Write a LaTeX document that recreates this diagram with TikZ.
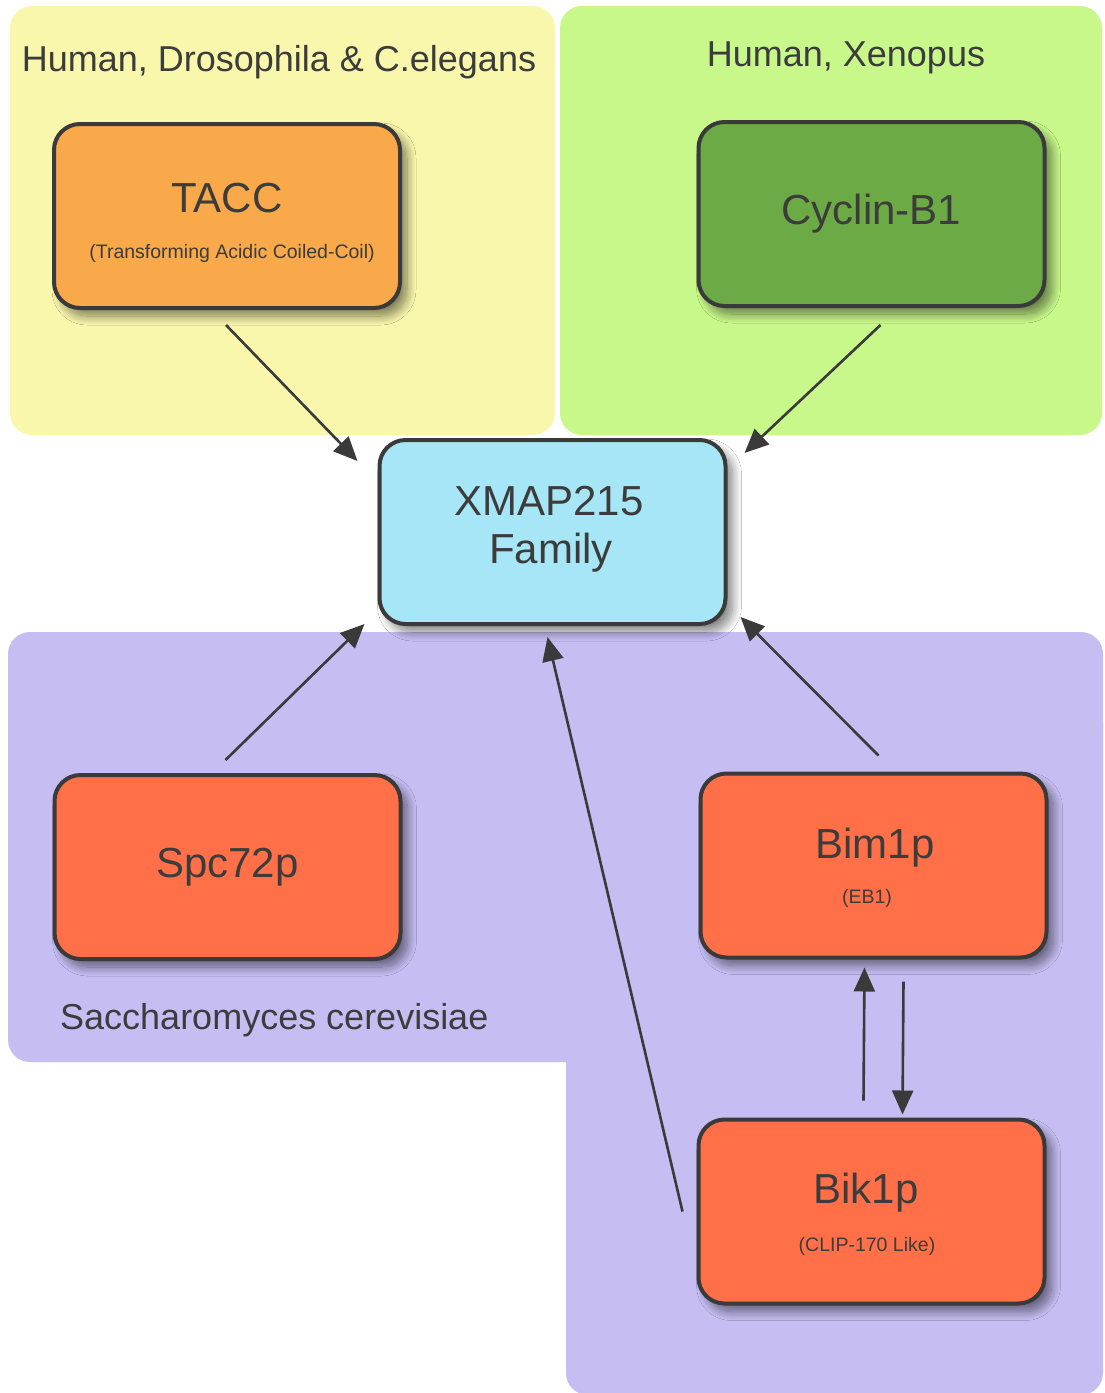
\documentclass[tikz,border=0pt]{standalone}
\usepackage{fontspec}
\setmainfont{Liberation Sans}
\usetikzlibrary{arrows.meta,shadows.blur}

\definecolor{yellowbg}{RGB}{249,247,172}
\definecolor{greenbg}{RGB}{200,248,138}
\definecolor{purplebg}{RGB}{198,190,243}
\definecolor{taccfill}{RGB}{249,168,74}
\definecolor{cyclinfill}{RGB}{108,170,70}
\definecolor{xmapfill}{RGB}{166,230,246}
\definecolor{yeastfill}{RGB}{255,112,72}
\definecolor{edge}{RGB}{58,58,58}
\definecolor{ink}{RGB}{60,60,60}

\tikzset{
  region/.style={rounded corners=22pt},
  protein/.style={draw=edge, line width=4pt, rounded corners=26pt,
    minimum width=346pt, minimum height=184pt, inner sep=0pt,
    text=ink, font=\fontsize{42}{50}\selectfont, align=center,
    blur shadow={shadow xshift=7pt, shadow yshift=-8pt,
      shadow blur radius=9pt, shadow blur steps=16, shadow opacity=50}},
  bigtext/.style={text=ink, inner sep=0pt, font=\fontsize{42}{50}\selectfont},
  subtext/.style={text=ink, inner sep=0pt, font=\fontsize{19.5}{23}\selectfont},
  grouptext/.style={text=ink, inner sep=0pt, font=\fontsize{36}{43}\selectfont},
  link/.style={draw=edge, line width=2.6pt,
    -{Triangle[length=24pt,width=21pt]}},
}

\begin{document}
\begin{tikzpicture}[x=1pt,y=-1pt]
  \useasboundingbox (0,0) rectangle (1104,1393);
  \fill[white] (0,0) rectangle (1104,1393);

  % species groups
  \fill[yellowbg, region] (10,6) rectangle (555,435);
  \fill[greenbg, region] (560,6) rectangle (1102,435);
  \fill[purplebg, region] (8,632) rectangle (1103,1062);
  \fill[purplebg, region] (566,700) rectangle (1103,1395);

  \node[grouptext] (hdc) at (279,62) {Human, Drosophila \& C.elegans};
  \node[grouptext] (hx) at (846,58) {Human, Xenopus};
  \node[grouptext, anchor=west] (sc) at (60,1020) {Saccharomyces cerevisiae};

  % proteins
  \node[protein, fill=taccfill] (tacc) at (227,216) {};
  \node[bigtext] (tacct) at (227,198) {TACC};
  \node[subtext] (taccs) at (232,253) {(Transforming Acidic Coiled-Coil)};

  \node[protein, fill=cyclinfill] (cyc) at (871.5,214) {Cyclin-B1};

  \node[protein, fill=xmapfill] (xmap) at (552.5,532) {};
  \node[bigtext] (xmapa) at (549,501) {XMAP215};
  \node[bigtext] (xmapb) at (551,553) {Family};

  \node[protein, fill=yeastfill] (spc) at (227.5,867) {Spc72p};

  \node[protein, fill=yeastfill] (bim) at (873.5,865.5) {};
  \node[bigtext] (bimt) at (875,848) {Bim1p};
  \node[subtext] (bims) at (867,898) {(EB1)};

  \node[protein, fill=yeastfill] (bik) at (871.5,1211.5) {};
  \node[bigtext] (bikt) at (866,1193) {Bik1p};
  \node[subtext] (biks) at (867,1246) {(CLIP-170 Like)};

  % interactions
  \draw[link] ([shift={(-1,15)}]tacc.south) -- ([shift={(-20,23)}]xmap.north west);
  \draw[link] ([shift={(9,17)}]cyc.south) -- ([shift={(17,15)}]xmap.north east);
  \draw[link] ([shift={(-2,-13)}]spc.north) -- ([shift={(-13,-2)}]xmap.south west);
  \draw[link] ([shift={(5,-16)}]bim.north) -- ([shift={(13,-9)}]xmap.south east);
  \draw[link] ([shift={(-14,0)}]bik.west) -- ([shift={(-5,11)}]xmap.south);
  \draw[link] ([shift={(-8,-17)}]bik.north) -- ([shift={(-9,8)}]bim.south);
  \draw[link] ([shift={(30,22)}]bim.south) -- ([shift={(31,-3)}]bik.north);
\end{tikzpicture}
\end{document}
